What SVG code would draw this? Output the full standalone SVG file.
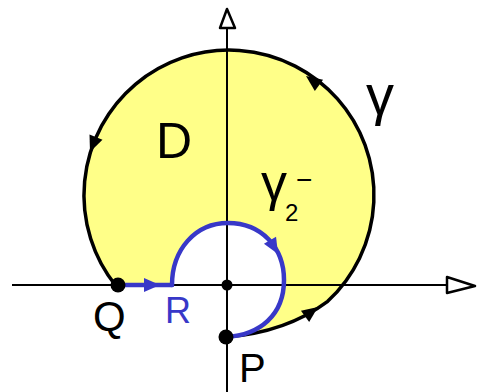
<svg xmlns="http://www.w3.org/2000/svg" width="485" height="392" viewBox="0 0 485 392">
<style>
.ax{stroke:#000;stroke-width:2;fill:none}
.axh{stroke:#000;stroke-width:2.5;fill:#fff;stroke-linejoin:round}
.blk{stroke:#000;stroke-width:3.5;fill:none;stroke-linecap:round}
.blu{stroke:#3838c8;stroke-width:4.5;fill:none;stroke-linecap:round}
.ahb{fill:#000}
.ahu{fill:#3838c8}
.lbl{font-family:"Liberation Sans",Arial,sans-serif;fill:#000}
.lblb{font-family:"Liberation Sans",Arial,sans-serif;fill:#3838c8}
</style>
<rect width="485" height="392" fill="#fff"/>
<g id="region">
<path d="M226,337 C265,334 300,322 327.7,301.3 A145,145 0 1 0 116,286 L172,285 C172,250 195,223 228,223 C262,223 284,248 284,280 C284,315 260,335 226,337 Z" fill="#ffff88"/>
</g>
<g id="axes">
<line class="ax" x1="12" y1="285" x2="470" y2="285"/>
<path class="axh" d="M447,277 L475,286 L447,293 Z"/>
<line class="ax" x1="227" y1="392" x2="227" y2="12"/>
<path class="axh" d="M220,28 L227,9 L235,28 Z"/>
</g>
<g id="connectors">
<path id="gamma" class="blk" d="M226,337 C265,334 300,322 327.7,301.3 A145,145 0 1 0 116,286 L118,285"/>
<path id="QR" class="blu" d="M118,285 L172,285"/>
<path id="gamma2" class="blu" d="M172,285 C172,250 195,223 228,223 C262,223 284,248 284,280 C284,315 260,335 226,337"/>
<polygon class="ahb" points="0,0 -16,-7 -16,7" transform="translate(306,76) rotate(216)"/>
<polygon class="ahb" points="0,0 -16,-7 -16,7" transform="translate(90,152) rotate(112)"/>
<polygon class="ahb" points="0,0 -16,-7 -16,7" transform="translate(318,307) rotate(-36)"/>
<polygon class="ahu" points="0,0 -16,-7 -16,7" transform="translate(160,285)"/>
<polygon class="ahu" points="0,0 -16,-7 -16,7" transform="translate(278,254) rotate(60)"/>
</g>
<g id="node-Q">
<circle cx="118" cy="285" r="7.5" fill="#000"/>
<text class="lbl" x="93" y="331" font-size="42">Q</text>
</g>
<g id="node-R">
<text class="lblb" x="165" y="323" font-size="36">R</text>
</g>
<g id="node-O">
<circle cx="227" cy="285" r="5.5" fill="#000"/>
</g>
<g id="node-P">
<circle cx="226" cy="337" r="7.5" fill="#000"/>
<text class="lbl" x="239" y="382" font-size="40">P</text>
</g>
<g id="label-D">
<text class="lbl" x="156" y="158" font-size="50">D</text>
</g>
<g id="label-gamma">
<text class="lbl" x="366" y="114" font-size="56">γ</text>
</g>
<g id="label-gamma2">
<text class="lbl" x="261" y="200" font-size="52">γ</text>
<text class="lbl" x="285" y="221" font-size="24">2</text>
<text class="lbl" x="296" y="189" font-size="28">−</text>
</g>
</svg>
